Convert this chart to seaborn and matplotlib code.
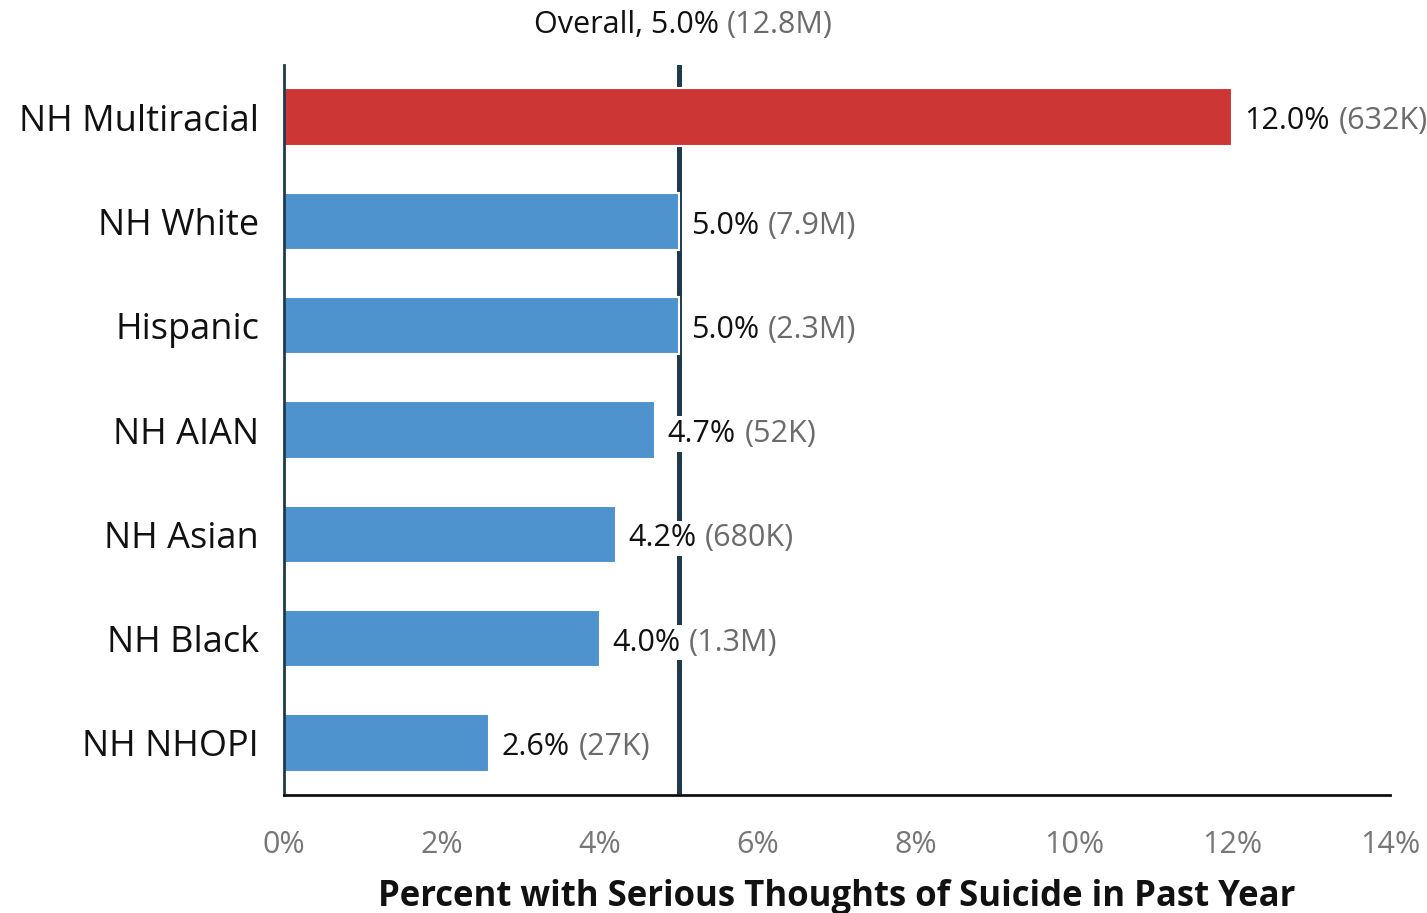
import pandas as pd
import numpy as np
import matplotlib
matplotlib.use('Agg')
import matplotlib.pyplot as plt
import seaborn as sns

# data
groups = ['NH Multiracial', 'NH White', 'Hispanic', 'NH AIAN', 'NH Asian', 'NH Black', 'NH NHOPI']
percents = [12.0, 5.0, 5.0, 4.7, 4.2, 4.0, 2.6]
counts = ['632K', '7.9M', '2.3M', '52K', '680K', '1.3M', '27K']
overall_pct = 5.0
overall_count = '12.8M'
xticks = [0, 2, 4, 6, 8, 10, 12, 14]
x_label = 'Percent with Serious Thoughts of Suicide in Past Year'

RED = '#CC3634'
BLUE = '#4E92CE'
LINE = '#1E3A4C'
GRAY = '#6b6b6b'

sns.set_theme(style='white')
plt.rcParams['font.family'] = ['Open Sans', 'DejaVu Sans']

df = pd.DataFrame({'group': groups, 'pct': percents, 'count': counts})
palette = {g: (RED if i == 0 else BLUE) for i, g in enumerate(groups)}

fig, ax = plt.subplots(figsize=(14.27, 9.13), dpi=100)
fig.subplots_adjust(left=284 / 1427, right=1390 / 1427, top=1 - 65 / 913, bottom=1 - 795 / 913)

ax.axvline(overall_pct, color=LINE, lw=3.6, zorder=1)

sns.barplot(data=df, x='pct', y='group', hue='group', palette=palette, order=groups,
            hue_order=groups, legend=False, width=0.55, edgecolor='white', linewidth=1.5,
            saturation=1, ax=ax, zorder=2)

ax.set_xlim(0, 14)
ax.set_ylim(6.5, -0.5)
ax.set_xticks(xticks)
ax.set_xticklabels([f'{t}%' for t in xticks], color='#777777', fontsize=22)
ax.tick_params(axis='x', length=0, pad=25)
ax.tick_params(axis='y', length=0, pad=18, labelsize=26, labelcolor='#111111')
ax.set_ylabel('')
ax.set_xlabel(x_label, fontsize=25, fontweight='bold', color='#111111')
ax.xaxis.label.set_va('center')
ax.xaxis.set_label_coords(0.5, -0.1395)

for side in ['top', 'right']:
    ax.spines[side].set_visible(False)
ax.spines['left'].set_color(LINE)
ax.spines['left'].set_linewidth(2)
ax.spines['bottom'].set_color('#111111')
ax.spines['bottom'].set_linewidth(2)

box = dict(facecolor='white', edgecolor='none', pad=2)
for i, row in df.iterrows():
    t1 = ax.annotate(f"{row['pct']:.1f}%", xy=(row['pct'], i), xytext=(9, -3),
                     textcoords='offset points', va='center', ha='left', fontsize=22,
                     color='#111111', bbox=box, zorder=5)
    ax.annotate(f"({row['count']})", xy=(1, 0.5), xycoords=t1, xytext=(6, 0),
                textcoords='offset points', va='center', ha='left', fontsize=22,
                color=GRAY, bbox=box, zorder=5)

t0 = ax.annotate(f'Overall, {overall_pct:.1f}%', xy=(overall_pct + 0.5, 1.0),
                 xycoords=('data', 'axes fraction'), xytext=(0, 29), textcoords='offset points',
                 ha='right', va='center', fontsize=22, color='#111111')
ax.annotate(f'({overall_count})', xy=(1, 0.5), xycoords=t0, xytext=(6, 0),
            textcoords='offset points', ha='left', va='center', fontsize=22, color=GRAY)

fig.savefig('out.png', dpi=100)
